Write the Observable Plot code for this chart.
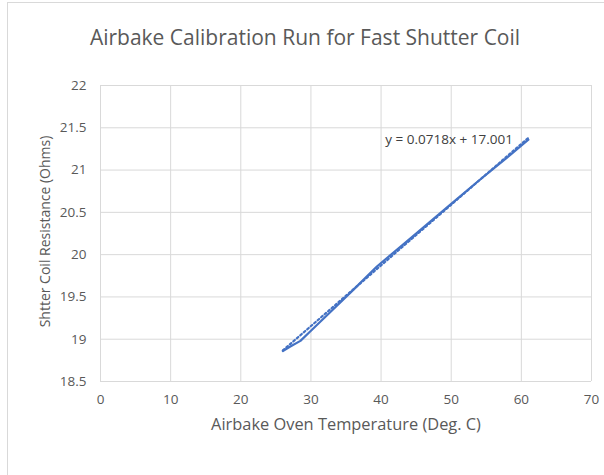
<!DOCTYPE html>
<html>
<head>
<meta charset="utf-8">
<script src="https://cdn.jsdelivr.net/npm/d3@7"></script>
<script src="https://cdn.jsdelivr.net/npm/@observablehq/plot@0.6"></script>
<style>
  html, body { margin: 0; padding: 0; background: #fff; }
  #frame { position: absolute; left: 7px; top: 2px; width: 620px; height: 490px;
           border-left: 1px solid #d9d9d9; border-top: 1px solid #d9d9d9; box-sizing: border-box; }
  #wrap { position: absolute; left: 0; top: 0; width: 604px; height: 475px; font-family: "Open Sans", sans-serif; }
  #title { position: absolute; left: 0; top: 0; width: 604px; height: 70px; text-align: center;
           font-size: 21px; color: #595959; line-height: 74px; text-indent: 6px; }
  #chart { position: absolute; left: 0; top: 70px; }
</style>
</head>
<body>
<div id="frame"></div>
<div id="wrap">
  <div id="title">Airbake Calibration Run for Fast Shutter Coil</div>
  <div id="chart"></div>
</div>
<script>
const temperature = [26, 27, 28.5, 30, 33, 36, 39.4, 43, 46, 50, 54, 58, 61];
const resistance  = [18.86, 18.91, 18.98, 19.10, 19.34, 19.58, 19.86, 20.11, 20.32, 20.60, 20.88, 21.15, 21.36];

// Linear trendline endpoints (y = 0.0718x + 17.001)
const trendX = [26, 61];
const trendY = [18.868, 21.381];
const trendLabel = ["y = 0.0718x + 17.001"];

const xTicks = [0, 10, 20, 30, 40, 50, 60, 70];
const yTicks = [18.5, 19, 19.5, 20, 20.5, 21, 21.5, 22];

const data = temperature.map((t, i) => ({t, r: resistance[i]}));
const trend = trendX.map((t, i) => ({t, r: trendY[i]}));

const chart = Plot.plot({
  width: 604,
  height: 405,
  marginLeft: 100,
  marginRight: 13,
  marginTop: 15,
  marginBottom: 94,
  style: { fontFamily: "Open Sans, sans-serif", fontSize: "13.5px", color: "#595959", background: "transparent", overflow: "visible" },
  x: { domain: [0, 70], ticks: xTicks, label: null },
  y: { domain: [18.5, 22], ticks: yTicks, label: null },
  marks: [
    Plot.gridX(xTicks, { stroke: "#d9d9d9", strokeOpacity: 1, strokeWidth: 1 }),
    Plot.gridY(yTicks, { stroke: "#d9d9d9", strokeOpacity: 1, strokeWidth: 1 }),
    Plot.axisX(xTicks, { tickSize: 0, tickPadding: 13, fontSize: 13.5, fill: "#595959", tickFormat: d => String(d) }),
    Plot.axisY(yTicks, { tickSize: 0, tickPadding: 14, fontSize: 13.5, fill: "#595959", tickFormat: d => String(d) }),
    Plot.text(["Airbake Oven Temperature (Deg. C)"], { frameAnchor: "bottom", textAnchor: "middle", dy: 48, fontSize: 16.4, fill: "#595959" }),
    Plot.text(["Shtter Coil Resistance (Ohms)"], { frameAnchor: "left", textAnchor: "middle", dx: -55, dy: -2, rotate: -90, fontSize: 14, fill: "#595959" }),
    Plot.line(trend, { x: "t", y: "r", stroke: "#4472C4", strokeWidth: 2.2, strokeDasharray: "2,2.6" }),
    Plot.line(data, { x: "t", y: "r", stroke: "#4472C4", strokeWidth: 2.2, curve: "linear" }),
    Plot.text(trendLabel, { x: 40.6, y: 21.36, textAnchor: "start", fontSize: 13.5, fill: "#404040" })
  ]
});
document.getElementById("chart").appendChild(chart);
</script>
</body>
</html>
